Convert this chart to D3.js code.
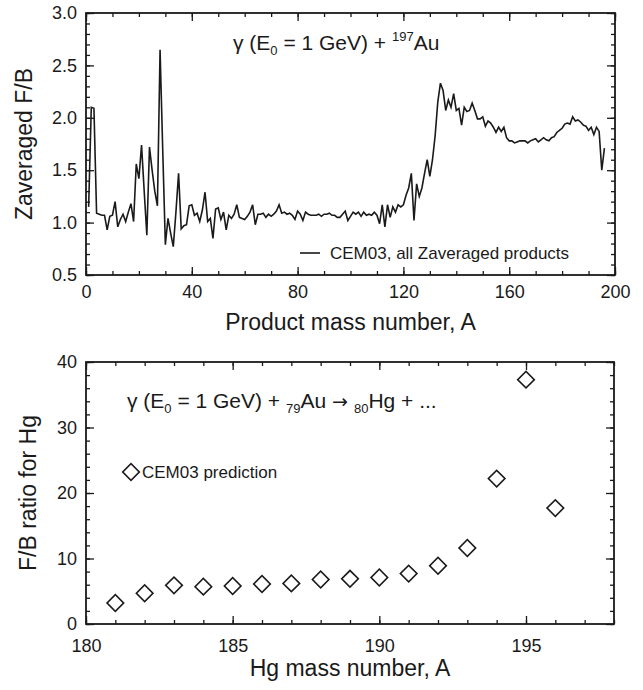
<!DOCTYPE html>
<html>
<head>
<meta charset="utf-8">
<script src="https://cdn.jsdelivr.net/npm/d3@7"></script>
<style>
body { margin: 0; background: #fff; }
svg text { font-family: "Liberation Sans", Arial, sans-serif; fill: #1a1a1a; }
</style>
</head>
<body>
<div id="chart"></div>
<script>
var ctx = {
    w: 643,
    h: 690
};

// top panel: Z-averaged F/B ratio, one value per product mass number A (starting at A = 1)
var zavgFirstA = 1;
var zavgRatio = [
    1.15, 2.10, 2.09, 1.09, 1.08, 1.07, 1.07, 0.93, 1.06, 1.07,
    1.20, 0.96, 1.03, 1.08, 1.01, 1.10, 1.18, 1.01, 1.56, 1.42,
    1.74, 1.30, 0.88, 1.72, 1.50, 1.30, 1.16, 2.65, 1.70, 0.79,
    1.04, 0.90, 0.77, 1.10, 1.47, 0.94, 0.97, 0.98, 1.16, 1.17,
    1.07, 1.09, 1.01, 1.12, 1.29, 1.01, 1.04, 0.85, 1.13, 1.14,
    1.03, 1.10, 0.93, 1.07, 1.04, 1.08, 1.17, 1.05, 1.04, 1.03,
    1.06, 1.10, 1.17, 0.98, 1.08, 1.08, 1.09, 1.05, 1.08, 1.06,
    1.08, 1.11, 1.17, 1.09, 1.10, 1.08, 1.09, 1.07, 1.03, 1.11,
    1.08, 1.02, 1.10, 1.08, 1.07, 1.07, 1.07, 1.08, 1.06, 1.08,
    1.08, 1.09, 1.07, 1.07, 1.05, 1.05, 1.08, 1.11, 1.02, 1.06,
    1.10, 1.08, 1.10, 1.06, 1.10, 1.07, 1.08, 1.07, 1.10, 1.07,
    0.99, 1.17, 0.96, 1.17, 1.05, 1.15, 1.10, 1.17, 1.15, 1.17,
    1.26, 1.33, 1.47, 1.02, 1.37, 1.25, 1.33, 1.47, 1.60, 1.44,
    1.60, 1.83, 2.15, 2.33, 2.26, 2.07, 2.17, 2.10, 2.23, 2.07,
    2.09, 1.93, 2.10, 2.06, 2.07, 2.14, 2.07, 1.99, 1.99, 2.01,
    1.92, 1.97, 1.95, 1.91, 1.86, 1.91, 1.87, 1.91, 1.81, 1.78,
    1.78, 1.76, 1.77, 1.78, 1.78, 1.78, 1.76, 1.78, 1.79, 1.80,
    1.77, 1.79, 1.81, 1.79, 1.78, 1.81, 1.82, 1.86, 1.88, 1.90,
    1.94, 1.95, 1.94, 2.01, 1.97, 1.98, 1.96, 1.93, 1.92, 1.88,
    1.91, 1.84, 1.91, 1.87, 1.50, 1.71
];

// bottom panel: F/B ratio for Hg isotopes
var hgMass = [181, 182, 183, 184, 185, 186, 187, 188, 189, 190, 191, 192, 193, 194, 195, 196];
var hgRatio = [3.2, 4.7, 5.9, 5.7, 5.8, 6.1, 6.2, 6.8, 6.9, 7.1, 7.7, 8.9, 11.6, 22.2, 37.3, 17.7];

var topXTicks = [0, 40, 80, 120, 160, 200];
var topYTicks = [0.5, 1.0, 1.5, 2.0, 2.5, 3.0];
var botXTicks = [180, 185, 190, 195];
var botYTicks = [0, 10, 20, 30, 40];


var drawFrame = function (g, x, y, o) {
    var w = x.range()[1] - x.range()[0];
    var h = y.range()[0] - y.range()[1];

    // minor ticks (no labels), all four sides, pointing inward
    g.append("g").attr("class", "minor").attr("transform", "translate(0," + h + ")")
        .call(d3.axisBottom(x).tickValues(o.xMinor).tickSize(-4).tickFormat(""));
    g.append("g").attr("class", "minor")
        .call(d3.axisTop(x).tickValues(o.xMinor).tickSize(-4).tickFormat(""));
    g.append("g").attr("class", "minor")
        .call(d3.axisLeft(y).tickValues(o.yMinor).tickSize(-4).tickFormat(""));
    g.append("g").attr("class", "minor").attr("transform", "translate(" + w + ",0)")
        .call(d3.axisRight(y).tickValues(o.yMinor).tickSize(-4).tickFormat(""));

    // major ticks
    g.append("g").attr("class", "major").attr("transform", "translate(0," + h + ")")
        .call(d3.axisBottom(x).tickValues(o.xMajor).tickSize(-8).tickPadding(o.xPad).tickFormat(o.xFmt));
    g.append("g").attr("class", "major")
        .call(d3.axisTop(x).tickValues(o.xMajor).tickSize(-8).tickFormat(""));
    g.append("g").attr("class", "major")
        .call(d3.axisLeft(y).tickValues(o.yMajor).tickSize(-8).tickPadding(9).tickFormat(o.yFmt));
    g.append("g").attr("class", "major").attr("transform", "translate(" + w + ",0)")
        .call(d3.axisRight(y).tickValues(o.yMajor).tickSize(-8).tickFormat(""));

    g.selectAll(".domain").remove();
    g.selectAll(".tick line").attr("stroke", "#1a1a1a").attr("stroke-width", 1.3);
    g.selectAll(".tick text")
        .style("font-family", "'Liberation Sans', Arial, sans-serif")
        .style("font-size", "18px")
        .attr("fill", "#1a1a1a");

    g.append("rect")
        .attr("width", w)
        .attr("height", h)
        .attr("fill", "none")
        .attr("stroke", "#1a1a1a")
        .attr("stroke-width", 1.8);
};


var createTop = function (svg) {
    var m = { left: 86, top: 13, w: 529, h: 262 };
    var g = svg.append("g").attr("transform", "translate(" + m.left + "," + m.top + ")");

    var x = d3.scaleLinear().domain([0, 200]).range([0, m.w]);
    var y = d3.scaleLinear().domain([0.5, 3.0]).range([m.h, 0]);

    var line = d3.line()
        .x(function (d, i) { return x(zavgFirstA + i); })
        .y(function (d) { return y(d); });

    g.append("path")
        .datum(zavgRatio)
        .attr("d", line)
        .attr("fill", "none")
        .attr("stroke", "#1a1a1a")
        .attr("stroke-width", 1.6)
        .attr("stroke-linejoin", "miter");

    drawFrame(g, x, y, {
        xMajor: topXTicks,
        xMinor: d3.range(0, 201, 10),
        yMajor: topYTicks,
        yMinor: d3.range(5, 31).map(function (v) { return v / 10; }),
        xFmt: d3.format("d"),
        yFmt: d3.format(".1f"),
        xPad: 10
    });

    // title
    var t = g.append("text")
        .attr("x", 147)
        .attr("y", 37)
        .style("font-size", "21px");
    t.append("tspan").text("\u03b3 (E");
    t.append("tspan").attr("dy", 5).style("font-size", "13px").text("0");
    t.append("tspan").attr("dy", -5).text(" = 1 GeV) + ");
    t.append("tspan").attr("dy", -9).style("font-size", "13px").text("197");
    t.append("tspan").attr("dy", 9).text("Au");

    // legend
    g.append("line")
        .attr("x1", 214).attr("x2", 234)
        .attr("y1", 240).attr("y2", 240)
        .attr("stroke", "#1a1a1a")
        .attr("stroke-width", 1.6);
    g.append("text")
        .attr("x", 244)
        .attr("y", 246)
        .style("font-size", "17px")
        .text("CEM03, all Zaveraged products");

    // axis titles
    svg.append("text")
        .attr("x", m.left + m.w / 2)
        .attr("y", 330)
        .attr("text-anchor", "middle")
        .style("font-size", "23px")
        .text("Product mass number, A");
    svg.append("text")
        .attr("transform", "translate(32," + (m.top + m.h / 2) + ") rotate(-90)")
        .attr("text-anchor", "middle")
        .style("font-size", "23px")
        .text("Zaveraged F/B");
};


var createBottom = function (svg) {
    var m = { left: 86, top: 362, w: 528, h: 262 };
    var g = svg.append("g").attr("transform", "translate(" + m.left + "," + m.top + ")");

    var x = d3.scaleLinear().domain([180, 198]).range([0, m.w]);
    var y = d3.scaleLinear().domain([0, 40]).range([m.h, 0]);

    drawFrame(g, x, y, {
        xMajor: botXTicks,
        xMinor: d3.range(180, 199, 1),
        yMajor: botYTicks,
        yMinor: d3.range(0, 41, 2),
        xFmt: d3.format("d"),
        yFmt: d3.format("d"),
        xPad: 15
    });

    var diamond = d3.symbol().type(d3.symbolSquare).size(138);
    var pts = hgMass.map(function (a, i) { return { a: a, v: hgRatio[i] }; });

    g.selectAll(".pt")
        .data(pts)
        .enter()
        .append("path")
        .attr("class", "pt")
        .attr("d", diamond)
        .attr("transform", function (d) {
            return "translate(" + x(d.a) + "," + y(d.v) + ") rotate(45)";
        })
        .attr("fill", "#fff")
        .attr("stroke", "#1a1a1a")
        .attr("stroke-width", 1.6);

    // title
    var t = g.append("text")
        .attr("x", 41)
        .attr("y", 46)
        .style("font-size", "21px");
    t.append("tspan").text("\u03b3 (E");
    t.append("tspan").attr("dy", 5).style("font-size", "13px").text("0");
    t.append("tspan").attr("dy", -5).text(" = 1 GeV) + ");
    t.append("tspan").attr("dy", 5).style("font-size", "13px").text("79");
    t.append("tspan").attr("dy", -5).text("Au ");
    t.append("tspan").style("font-family", "'DejaVu Sans', sans-serif").style("font-size", "19px").text(" \u2192 ");
    t.append("tspan").attr("dy", 5).style("font-size", "13px").text("80");
    t.append("tspan").attr("dy", -5).text("Hg + ...");

    // legend
    g.append("path")
        .attr("d", diamond)
        .attr("transform", "translate(45,110) rotate(45)")
        .attr("fill", "#fff")
        .attr("stroke", "#1a1a1a")
        .attr("stroke-width", 1.6);
    g.append("text")
        .attr("x", 56)
        .attr("y", 116)
        .style("font-size", "17px")
        .text("CEM03 prediction");

    // axis titles
    svg.append("text")
        .attr("x", m.left + m.w / 2)
        .attr("y", 676)
        .attr("text-anchor", "middle")
        .style("font-size", "23px")
        .text("Hg mass number, A");
    svg.append("text")
        .attr("transform", "translate(36," + (m.top + m.h / 2) + ") rotate(-90)")
        .attr("text-anchor", "middle")
        .style("font-size", "23px")
        .text("F/B ratio for Hg");
};


var createViz = function () {
    var svg = d3.select("#chart").append("svg")
        .attr("width", ctx.w)
        .attr("height", ctx.h);
    createTop(svg);
    createBottom(svg);
};

createViz();
</script>
</body>
</html>
